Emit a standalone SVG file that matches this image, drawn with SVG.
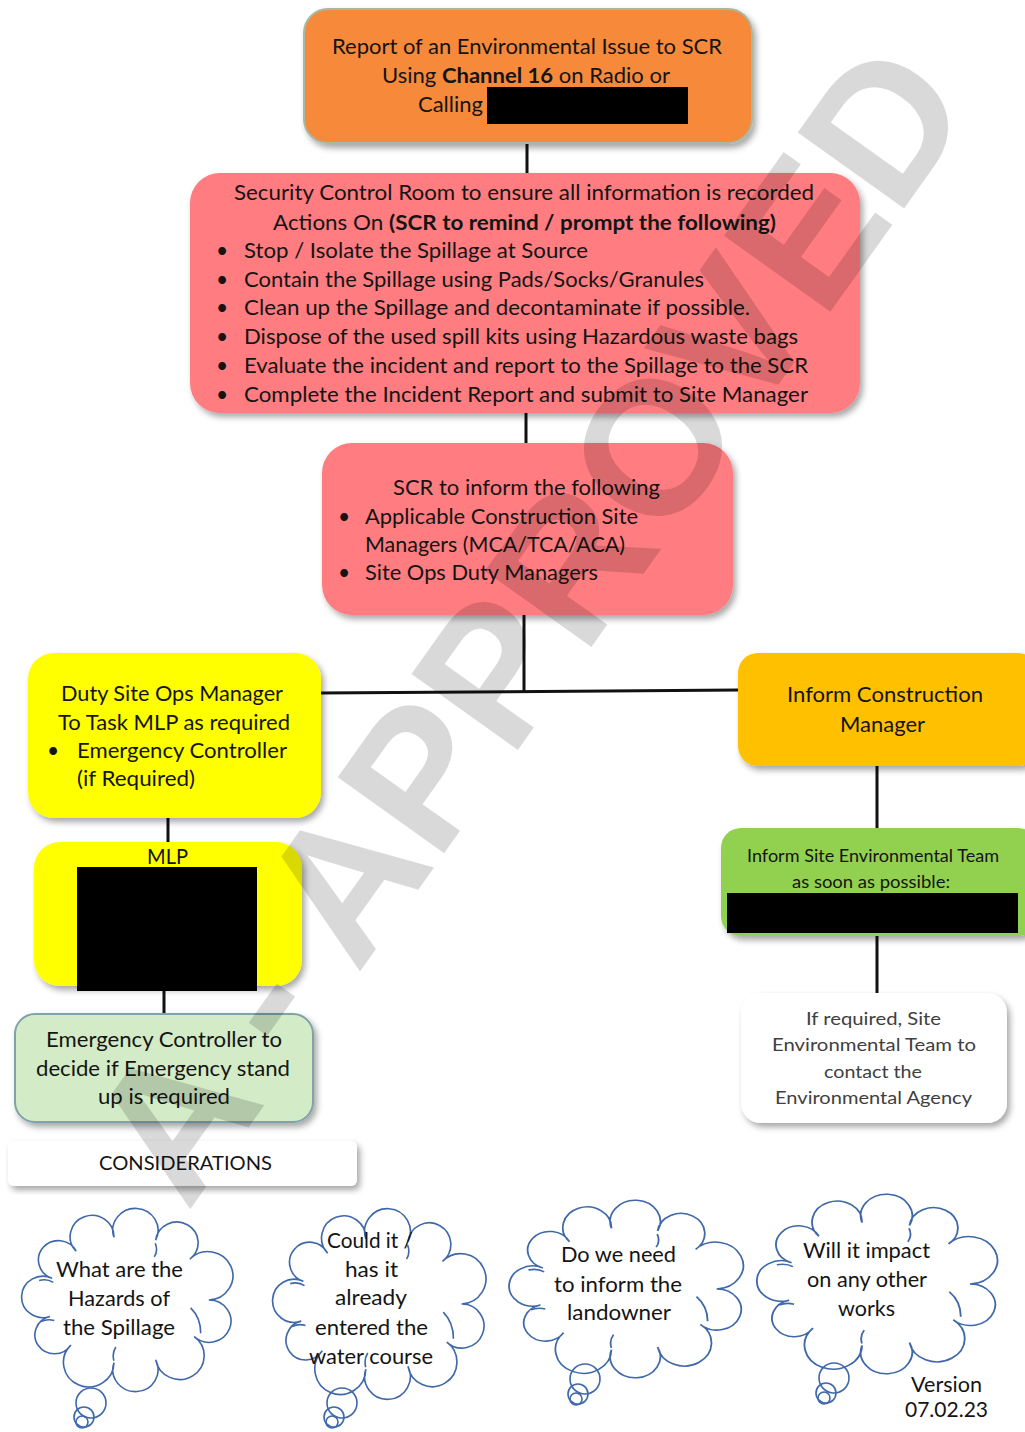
<svg xmlns="http://www.w3.org/2000/svg" width="1025" height="1432" viewBox="0 0 1025 1432">
<style>
.t{font-family:Lato,"Liberation Sans",sans-serif;font-size:21px;fill:#141414}
.s{font-size:18px}
.g{fill:#404040}
.b{font-weight:bold}
.c{fill:#fff;stroke:#3E68AA;stroke-width:1.6}
.ci{fill:none;stroke:#3E68AA;stroke-width:1.6}
.bub{fill:none;stroke:#3E68AA;stroke-width:1.6}
.conn{stroke:#111;stroke-width:3;fill:none}
</style>
<defs>
<filter id="sh" x="-10%" y="-10%" width="125%" height="130%">
<feDropShadow dx="3" dy="4" stdDeviation="3" flood-color="#000" flood-opacity="0.35"/>
</filter>
<path id="cloud" d="M80,0 A21.6,21.6 0 1 1 65.5,37.3 A24.2,24.2 0 1 1 27.4,61.1 A22.4,22.4 0 1 1 -13.9,64 A25,25 0 1 1 -56.6,46 A19.3,19.3 0 1 1 -77.3,16.8 A21.1,21.1 0 1 1 -75.2,-22.2 A19.7,19.7 0 1 1 -51.4,-49.8 A21.7,21.7 0 1 1 -13.9,-64 A22.4,22.4 0 1 1 27.4,-61.1 A21.1,21.1 0 1 1 61.3,-41.8 A24.7,24.7 0 1 1 80,0 Z"/>
<path id="cloudIn" d="M-88,-20 Q-80,-22 -74,-18 M-86,22 Q-80,19 -73,21 M62,8 Q72,18 72,34 M-14,62 Q-16,54 -12,48 M27,-58 Q30,-50 26,-44"/>
</defs>
<rect width="1025" height="1432" fill="#fff"/>

<g id="connectors">
<line class="conn" x1="527" y1="143" x2="527" y2="174"/>
<line class="conn" x1="526" y1="412" x2="526" y2="444"/>
<line class="conn" x1="524" y1="614" x2="524" y2="692"/>
<line class="conn" x1="320" y1="693" x2="739" y2="690"/>
<line class="conn" x1="168" y1="817" x2="168" y2="843"/>
<line class="conn" x1="164" y1="989" x2="164" y2="1015"/>
<line class="conn" x1="877" y1="765" x2="877" y2="829"/>
<line class="conn" x1="877" y1="936" x2="877" y2="994"/>
</g>

<g id="report">
<rect x="304" y="9" width="448" height="134" rx="24" fill="#F7893B" stroke="#A9B8A0" stroke-width="2" filter="url(#sh)"/>
<text class="t" x="332" y="54" textLength="390" lengthAdjust="spacingAndGlyphs">Report of an Environmental Issue to SCR</text>
<text class="t" x="382" y="83" textLength="288" lengthAdjust="spacingAndGlyphs">Using <tspan class="b">Channel 16</tspan> on Radio or</text>
<text class="t" x="418" y="112" textLength="65" lengthAdjust="spacingAndGlyphs">Calling</text>
<rect x="487" y="87" width="201" height="37" fill="#000"/>
</g>

<g id="scr-actions">
<rect x="190" y="173" width="670" height="240" rx="30" fill="#FF7C80" filter="url(#sh)"/>
<text class="t" x="234" y="200" textLength="580" lengthAdjust="spacingAndGlyphs">Security Control Room to ensure all information is recorded</text>
<text class="t" x="273" y="230" textLength="503" lengthAdjust="spacingAndGlyphs">Actions On <tspan class="b">(SCR to remind / prompt the following)</tspan></text>
<text class="t" x="216" y="258">•</text>
<text class="t" x="244" y="258" textLength="344" lengthAdjust="spacingAndGlyphs">Stop / Isolate the Spillage at Source</text>
<text class="t" x="216" y="287">•</text>
<text class="t" x="244" y="287" textLength="460" lengthAdjust="spacingAndGlyphs">Contain the Spillage using Pads/Socks/Granules</text>
<text class="t" x="216" y="315">•</text>
<text class="t" x="244" y="315" textLength="506" lengthAdjust="spacingAndGlyphs">Clean up the Spillage and decontaminate if possible.</text>
<text class="t" x="216" y="344">•</text>
<text class="t" x="244" y="344" textLength="554" lengthAdjust="spacingAndGlyphs">Dispose of the used spill kits using Hazardous waste bags</text>
<text class="t" x="216" y="373">•</text>
<text class="t" x="244" y="373" textLength="564" lengthAdjust="spacingAndGlyphs">Evaluate the incident and report to the Spillage to the SCR</text>
<text class="t" x="216" y="402">•</text>
<text class="t" x="244" y="402" textLength="564" lengthAdjust="spacingAndGlyphs">Complete the Incident Report and submit to Site Manager</text>
</g>

<g id="scr-inform">
<rect x="322" y="443" width="411" height="172" rx="30" fill="#FF7C80" filter="url(#sh)"/>
<text class="t" x="393" y="495" textLength="267" lengthAdjust="spacingAndGlyphs">SCR to inform the following</text>
<text class="t" x="338" y="524">•</text>
<text class="t" x="365" y="524" textLength="273" lengthAdjust="spacingAndGlyphs">Applicable Construction Site</text>
<text class="t" x="365" y="552" textLength="260" lengthAdjust="spacingAndGlyphs">Managers (MCA/TCA/ACA)</text>
<text class="t" x="338" y="580">•</text>
<text class="t" x="365" y="580" textLength="233" lengthAdjust="spacingAndGlyphs">Site Ops Duty Managers</text>
</g>

<g id="duty-manager">
<rect x="28" y="653" width="293" height="165" rx="26" fill="#FFFF00" filter="url(#sh)"/>
<text class="t" x="61" y="701" textLength="222" lengthAdjust="spacingAndGlyphs">Duty Site Ops Manager</text>
<text class="t" x="58" y="730" textLength="232" lengthAdjust="spacingAndGlyphs">To Task MLP as required</text>
<text class="t" x="47" y="758">•</text>
<text class="t" x="77" y="758" textLength="210" lengthAdjust="spacingAndGlyphs">Emergency Controller</text>
<text class="t" x="77" y="786" textLength="118" lengthAdjust="spacingAndGlyphs">(if Required)</text>
</g>

<g id="mlp">
<rect x="34" y="842" width="268" height="144" rx="26" fill="#FFFF00" filter="url(#sh)"/>
<text class="t" x="147" y="864" textLength="41" lengthAdjust="spacingAndGlyphs">MLP</text>
<rect x="77" y="867" width="180" height="124" fill="#000"/>
</g>

<g id="emergency-controller">
<rect x="15" y="1014" width="298" height="108" rx="20" fill="#D3EBC7" stroke="#7EA3A8" stroke-width="2" filter="url(#sh)"/>
<text class="t" x="46" y="1047" textLength="236" lengthAdjust="spacingAndGlyphs">Emergency Controller to</text>
<text class="t" x="36" y="1076" textLength="254" lengthAdjust="spacingAndGlyphs">decide if Emergency stand</text>
<text class="t" x="98" y="1104" textLength="132" lengthAdjust="spacingAndGlyphs">up is required</text>
</g>

<g id="considerations">
<rect x="8" y="1141" width="349" height="45" rx="6" fill="#fff" filter="url(#sh)"/>
<text class="t" x="99" y="1170" style="font-size:20px" textLength="173" lengthAdjust="spacingAndGlyphs">CONSIDERATIONS</text>
</g>

<g id="construction-manager">
<rect x="738" y="653" width="300" height="113" rx="20" fill="#FFC000" filter="url(#sh)"/>
<text class="t" x="787" y="702" textLength="196" lengthAdjust="spacingAndGlyphs">Inform Construction</text>
<text class="t" x="840" y="732" textLength="85" lengthAdjust="spacingAndGlyphs">Manager</text>
</g>

<g id="environmental-team">
<rect x="721" y="828" width="317" height="108" rx="20" fill="#92D050" filter="url(#sh)"/>
<text class="t s" x="747" y="862" textLength="252" lengthAdjust="spacingAndGlyphs">Inform Site Environmental Team</text>
<text class="t s" x="792" y="888" textLength="158" lengthAdjust="spacingAndGlyphs">as soon as possible:</text>
<rect x="727" y="893" width="291" height="40" fill="#000"/>
</g>

<g id="environmental-agency">
<rect x="741" y="993" width="266" height="130" rx="20" fill="#fff" filter="url(#sh)"/>
<text class="t s g" x="806" y="1025" textLength="135" lengthAdjust="spacingAndGlyphs">If required, Site</text>
<text class="t s g" x="772" y="1051" textLength="204" lengthAdjust="spacingAndGlyphs">Environmental Team to</text>
<text class="t s g" x="824" y="1078" textLength="98" lengthAdjust="spacingAndGlyphs">contact the</text>
<text class="t s g" x="775" y="1104" textLength="197" lengthAdjust="spacingAndGlyphs">Environmental Agency</text>
</g>

<g id="cloud-hazards">
<use href="#cloud" class="c" transform="translate(128,1300) scale(1.01,0.98)"/>
<use href="#cloudIn" class="ci" transform="translate(128,1300) scale(1.01,0.98)"/>
<circle class="bub" cx="91" cy="1403" r="15"/>
<circle class="bub" cx="84" cy="1417" r="10"/>
<circle class="bub" cx="82" cy="1422" r="6"/>
<text class="t" x="56" y="1277" textLength="127" lengthAdjust="spacingAndGlyphs">What are the</text>
<text class="t" x="68" y="1306" textLength="102" lengthAdjust="spacingAndGlyphs">Hazards of</text>
<text class="t" x="63" y="1335" textLength="112" lengthAdjust="spacingAndGlyphs">the Spillage</text>
</g>

<g id="cloud-watercourse">
<use href="#cloud" class="c" transform="translate(380,1304) scale(1.02,1.02)"/>
<use href="#cloudIn" class="ci" transform="translate(380,1304) scale(1.02,1.02)"/>
<circle class="bub" cx="342" cy="1403" r="15"/>
<circle class="bub" cx="334" cy="1417" r="10"/>
<circle class="bub" cx="332" cy="1422" r="6"/>
<text class="t" x="327" y="1248" textLength="86" lengthAdjust="spacingAndGlyphs">Could it /</text>
<text class="t" x="345" y="1277" textLength="53" lengthAdjust="spacingAndGlyphs">has it</text>
<text class="t" x="335" y="1305" textLength="72" lengthAdjust="spacingAndGlyphs">already</text>
<text class="t" x="315" y="1335" textLength="113" lengthAdjust="spacingAndGlyphs">entered the</text>
<text class="t" x="309" y="1364" textLength="124" lengthAdjust="spacingAndGlyphs">water course</text>
</g>

<g id="cloud-landowner">
<use href="#cloud" class="c" transform="translate(627,1289) scale(1.12,0.95)"/>
<use href="#cloudIn" class="ci" transform="translate(627,1289) scale(1.12,0.95)"/>
<circle class="bub" cx="585" cy="1379" r="15"/>
<circle class="bub" cx="578" cy="1394" r="10"/>
<circle class="bub" cx="576" cy="1399" r="6"/>
<text class="t" x="561" y="1262" textLength="115" lengthAdjust="spacingAndGlyphs">Do we need</text>
<text class="t" x="554" y="1292" textLength="128" lengthAdjust="spacingAndGlyphs">to inform the</text>
<text class="t" x="567" y="1320" textLength="104" lengthAdjust="spacingAndGlyphs">landowner</text>
</g>

<g id="cloud-works">
<use href="#cloud" class="c" transform="translate(878,1284) scale(1.15,0.96)"/>
<use href="#cloudIn" class="ci" transform="translate(878,1284) scale(1.15,0.96)"/>
<circle class="bub" cx="834" cy="1378" r="15"/>
<circle class="bub" cx="826" cy="1393" r="10"/>
<circle class="bub" cx="824" cy="1398" r="6"/>
<text class="t" x="803" y="1258" textLength="127" lengthAdjust="spacingAndGlyphs">Will it impact</text>
<text class="t" x="807" y="1287" textLength="120" lengthAdjust="spacingAndGlyphs">on any other</text>
<text class="t" x="838" y="1316" textLength="57" lengthAdjust="spacingAndGlyphs">works</text>
</g>

<g id="version">
<text class="t" x="911" y="1392" textLength="71" lengthAdjust="spacingAndGlyphs">Version</text>
<text class="t" x="905" y="1417" textLength="83" lengthAdjust="spacingAndGlyphs">07.02.23</text>
</g>

<g id="watermark">
<text transform="translate(582,660) rotate(-54.5)" text-anchor="middle" font-family="Liberation Sans" font-weight="bold" font-size="190" fill="#000" fill-opacity="0.15">A - APPROVED</text>
</g>
</svg>
